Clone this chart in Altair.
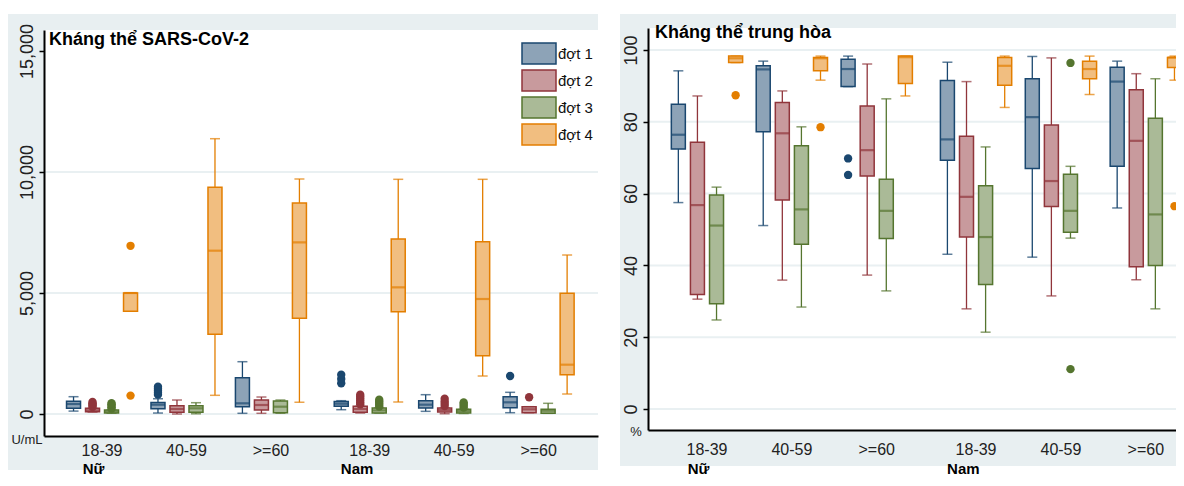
import json
import altair as alt
import pandas as pd

SEXES = ["Nữ", "Nam"]
AGES = ["18-39", "40-59", ">=60"]
SERIES = ["đợt 1", "đợt 2", "đợt 3", "đợt 4"]

# Panel 1: SARS-CoV-2 antibody (U/mL); 24 boxes ordered sex -> age -> series
AB_LO = [120, 80, 30, 4250, 40, 0, 10, 772, 29, 29, 30, 483,
         178, 40, 41, 496, 110, 12, 20, 1570, 54, 54, 29, 826]
AB_Q1 = [235, 95, 40, 4250, 220, 70, 70, 3292, 302, 165, 54, 3954,
         318, 70, 41, 4228, 248, 80, 40, 2410, 260, 54, 29, 1625]
AB_MED = [413, 150, 100, 5000, 385, 207, 235, 6749, 442, 372, 302, 7094,
          426, 207, 150, 5234, 385, 165, 120, 4752, 483, 194, 136, 2038]
AB_Q3 = [525, 235, 165, 5000, 480, 343, 343, 9367, 1500, 578, 537, 8719,
         520, 318, 248, 7231, 550, 250, 200, 7121, 715, 302, 194, 4987]
AB_HI = [715, 235, 165, 5000, 630, 578, 467, 11376, 2161, 702, 578, 9711,
         550, 318, 248, 9698, 798, 250, 200, 9698, 896, 302, 442, 6570]
AB_OUT = [[], [290, 340, 390, 440, 500], [220, 280, 340, 400, 450], [6950, 760],
          [800, 880, 960, 1040, 1130], [], [], [],
          [], [], [], [],
          [1270, 1450, 1620], [400, 480, 560, 640, 720, 800], [310, 380, 450, 520, 590], [],
          [], [330, 420, 520, 630], [270, 340, 410, 480], [],
          [1570], [690], [], []]

# Panel 2: neutralising antibody (%)
NT_LO = [57.5, 30.6, 24.8, 96.5, 51.1, 35.9, 28.4, 91.6, 89.8, 37.3, 32.9, 87.2,
         43.1, 27.9, 21.4, 84.0, 42.3, 31.5, 47.6, 87.6, 56.0, 36.0, 27.9, 91.6]
NT_Q1 = [72.4, 31.9, 29.3, 96.5, 77.2, 58.2, 45.9, 94.2, 89.8, 64.9, 47.5, 90.7,
         69.3, 47.9, 34.7, 90.2, 67.0, 56.4, 49.2, 92.0, 67.6, 39.6, 40.0, 95.1]
NT_MED = [76.4, 56.8, 51.1, 97.7, 94.6, 76.8, 55.6, 97.7, 94.7, 72.1, 55.2, 98.0,
          75.1, 59.1, 47.9, 95.6, 81.3, 63.5, 55.2, 94.7, 91.2, 74.7, 54.2, 97.9]
NT_Q3 = [84.9, 74.3, 59.6, 98.3, 95.6, 85.4, 73.3, 97.9, 97.4, 84.4, 64.0, 98.3,
         91.5, 76.0, 62.2, 97.9, 92.0, 79.1, 65.4, 96.9, 95.2, 88.9, 81.0, 97.9]
NT_HI = [94.2, 87.2, 61.8, 98.3, 96.9, 88.6, 78.6, 98.3, 98.3, 96.1, 86.4, 98.3,
         96.6, 91.2, 73.0, 98.3, 98.2, 97.8, 67.6, 98.3, 96.9, 93.4, 92.0, 98.3]
NT_OUT = [[], [], [], [87.4], [], [], [], [78.5], [69.8, 65.2], [], [], [],
          [], [], [], [], [], [], [96.4, 11.1], [], [], [], [], [56.5]]

AB_TICKS = [0, 5000, 10000, 15000]
AB_GRID = [0, 5000, 10000]
NT_TICKS = [0, 20, 40, 60, 80, 100]

# ---- styling / layout ----
SANS = "Liberation Sans, Arial, sans-serif"
BG = "#e8eff1"
GRID = "#e9f0f2"
DARK = ["#1a476f", "#90353b", "#55752f", "#e37e00"]
LIGHT = ["#8da3b7", "#c89a9d", "#aaba97", "#f1be80"]
GAP = 3.17      # position of the second sex block, in group units
OFF = 0.225     # distance between boxes inside a group, in group units
SEX_SHIFT = {"Nữ": -0.1, "Nam": -0.15}
VIEW_W, VIEW_H = 1132, 406


def group_pos(sex, age):
    return AGES.index(age) + SEXES.index(sex) * GAP


def frames(lo, q1, med, q3, hi, outs):
    rows, orows = [], []
    k = 0
    for s in SEXES:
        for a in AGES:
            for ri, r in enumerate(SERIES):
                p = group_pos(s, a) + (ri - 1.5) * OFF
                rows.append(dict(sex=s, age=a, series=r, pos=p, lo=lo[k], q1=q1[k],
                                 med=med[k], q3=q3[k], hi=hi[k]))
                for v in outs[k]:
                    orows.append(dict(sex=s, age=a, series=r, pos=p, value=v))
                k += 1
    return pd.DataFrame(rows), pd.DataFrame(orows)


groups = pd.DataFrame([dict(sex=s, age=a, gpos=group_pos(s, a)) for s in SEXES for a in AGES])
sexes = pd.DataFrame([dict(sex=s, spos=group_pos(s, AGES[0]) + SEX_SHIFT[s]) for s in SEXES])

stroke_sc = alt.Scale(domain=SERIES, range=DARK)
fill_sc = alt.Scale(domain=SERIES, range=LIGHT)


def panel(stats, outs, ox, W, top, H, ydom, xdom, yticks, gridticks, fmt, title, title_x,
          title_y, unit, unit_x, unit_y, bg_left, bg_bottom, lab_y, sex_y, legend=False):
    ysc = alt.Scale(domain=ydom, range=[top + H, top], nice=False, zero=False)
    xsc = alt.Scale(domain=xdom, range=[ox, ox + W], nice=False, zero=False)
    yax = alt.Axis(values=yticks, format=fmt, orient="left", offset=-ox, labelAngle=270,
                   labelAlign="center", labelBaseline="bottom", labelFont=SANS,
                   labelFontSize=18, labelColor="#222", tickColor="black", tickSize=5,
                   tickWidth=1.5, domainColor="black", domainWidth=2, labelPadding=3,
                   grid=False, title=None, zindex=1)
    xax = alt.Axis(orient="bottom", offset=(top + H) - VIEW_H, labels=False, ticks=False,
                   grid=False, domainColor="black", domainWidth=2, title=None, zindex=1)
    X = alt.X("pos:Q", scale=xsc, axis=xax)
    col = alt.Color("series:N", scale=stroke_sc, legend=None)
    one = pd.DataFrame({"k": [0]})

    bg = alt.Chart(one).mark_rect(color=BG).encode(
        x=alt.value(ox + bg_left), x2=alt.value(ox + W), y=alt.value(-16),
        y2=alt.value(bg_bottom))
    white = alt.Chart(one).mark_rect(color="white").encode(
        x=alt.value(ox), x2=alt.value(ox + W), y=alt.value(top), y2=alt.value(top + H))
    grid = alt.Chart(pd.DataFrame({"v": gridticks})).mark_rule(color=GRID, strokeWidth=2).encode(
        y=alt.Y("v:Q", scale=ysc, axis=yax), x=alt.value(ox), x2=alt.value(ox + W))

    base = alt.Chart(stats)
    whisk = base.mark_rule(strokeWidth=1.3).encode(
        x=X, y=alt.Y("lo:Q", scale=ysc, axis=yax), y2="hi:Q", color=col)
    cap_lo = base.mark_tick(orient="horizontal", size=10, thickness=1.5).encode(
        x=X, y=alt.Y("lo:Q", scale=ysc, axis=yax), color=col)
    cap_hi = base.mark_tick(orient="horizontal", size=10, thickness=1.5).encode(
        x=X, y=alt.Y("hi:Q", scale=ysc, axis=yax), color=col)
    box = base.mark_bar(size=14, orient="vertical", strokeWidth=1.5).encode(
        x=X, y=alt.Y("q1:Q", scale=ysc, axis=yax), y2="q3:Q",
        fill=alt.Fill("series:N", scale=fill_sc, legend=None),
        stroke=alt.Stroke("series:N", scale=stroke_sc, legend=None))
    med = base.mark_tick(orient="horizontal", size=14, thickness=2.2).encode(
        x=X, y=alt.Y("med:Q", scale=ysc, axis=yax), color=col)
    outl = alt.Chart(outs).mark_point(filled=True, size=70, opacity=1).encode(
        x=X, y=alt.Y("value:Q", scale=ysc, axis=yax), color=col)

    ages = alt.Chart(groups).mark_text(font=SANS, fontSize=16, baseline="middle",
                                       color="#222").encode(
        x=alt.X("gpos:Q", scale=xsc, axis=xax), y=alt.value(lab_y), text="age:N")
    sx = alt.Chart(sexes).mark_text(font=SANS, fontSize=15, fontWeight="bold",
                                    baseline="alphabetic", color="black").encode(
        x=alt.X("spos:Q", scale=xsc, axis=xax), y=alt.value(sex_y), text="sex:N")
    ttl = alt.Chart(pd.DataFrame({"t": [title]})).mark_text(
        font=SANS, fontSize=18, fontWeight="bold", align="left", baseline="alphabetic",
        color="black").encode(x=alt.value(title_x), y=alt.value(title_y), text="t:N")
    un = alt.Chart(pd.DataFrame({"t": [unit]})).mark_text(
        font=SANS, fontSize=13, align="center", baseline="middle", color="#222").encode(
        x=alt.value(unit_x), y=alt.value(unit_y), text="t:N")

    layers = [bg, white, grid, whisk, cap_lo, cap_hi, box, med, outl, ages, sx, ttl, un]
    if legend:
        ser = json.dumps(SERIES, ensure_ascii=False)
        leg = alt.Chart(pd.DataFrame({"series": SERIES})).transform_calculate(
            ly=f"13 + 27*indexof({ser}, datum.series)",
            ly2="datum.ly + 21", lt="datum.ly + 11")
        lrect = leg.mark_rect(strokeWidth=1.5).encode(
            x=alt.value(ox + W - 76), x2=alt.value(ox + W - 42),
            y=alt.Y("ly:Q", scale=None, axis=None), y2="ly2:Q",
            fill=alt.Fill("series:N", scale=fill_sc, legend=None),
            stroke=alt.Stroke("series:N", scale=stroke_sc, legend=None))
        ltxt = leg.mark_text(font=SANS, fontSize=15, align="left", baseline="middle",
                             color="#111").encode(
            x=alt.value(ox + W - 40), y=alt.Y("lt:Q", scale=None, axis=None), text="series:N")
        layers += [lrect, ltxt]
    return alt.layer(*layers)


ab_stats, ab_outs = frames(AB_LO, AB_Q1, AB_MED, AB_Q3, AB_HI, AB_OUT)
nt_stats, nt_outs = frames(NT_LO, NT_Q1, NT_MED, NT_Q3, NT_HI, NT_OUT)

left = panel(ab_stats, ab_outs, ox=0, W=554, top=0, H=406, ydom=[-909, 15868],
             xdom=[-0.628, 5.814], yticks=AB_TICKS, gridticks=AB_GRID, fmt=",d",
             title="Kháng thể SARS-CoV-2", title_x=5, title_y=15,
             unit="U/mL", unit_x=-17, unit_y=410, bg_left=-36, bg_bottom=440,
             lab_y=421, sex_y=444, legend=True)
right = panel(nt_stats, nt_outs, ox=604, W=536, top=-2, H=402, ydom=[-5.85, 106.13],
              xdom=[-0.636, 5.561], yticks=NT_TICKS, gridticks=NT_TICKS, fmt="d",
              title="Kháng thể trung hòa", title_x=611, title_y=8,
              unit="%", unit_x=592, unit_y=402, bg_left=-28, bg_bottom=436,
              lab_y=420, sex_y=444)

chart = alt.layer(left, right).resolve_scale(x="independent", y="independent").properties(
    width=VIEW_W, height=VIEW_H,
    autosize=alt.AutoSizeParams(type="none"),
    padding={"left": 36, "top": 22, "right": 0, "bottom": 42},
    background="white",
).configure_view(stroke=None)

chart.save("out.html", embed_options={"renderer": "svg", "actions": False})
